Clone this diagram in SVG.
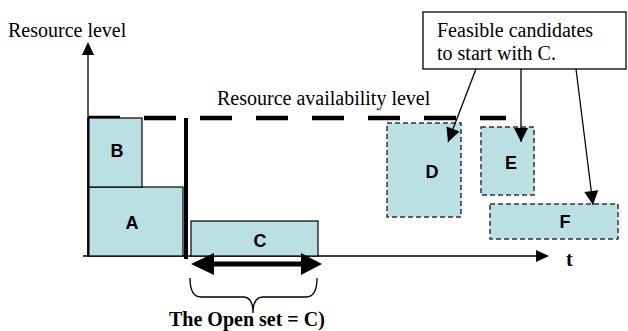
<svg xmlns="http://www.w3.org/2000/svg" width="628" height="331" viewBox="0 0 628 331">
  <defs>
    <style>
      text.serif { font-family: 'Liberation Serif', 'Times New Roman', Times, serif; font-size: 20px; fill: #000; }
      text.bold { font-weight: bold; }
      text.lbl { font-family: 'Liberation Sans', Arial, sans-serif; font-size: 18px; font-weight: bold; fill: #000; text-anchor: middle; }
      .task { fill: #BAE0E3; stroke: #000; stroke-width: 1.2; }
      .cand { fill: #BAE0E3; stroke: #333; stroke-width: 1.5; stroke-dasharray: 5 3; }
      .thin { stroke: #000; stroke-width: 1.3; fill: none; }
    </style>
    <marker id="ah" viewBox="0 0 12 14" refX="14" refY="7" markerWidth="14" markerHeight="14" markerUnits="userSpaceOnUse" orient="auto">
      <path d="M0,0 L14,7 L0,14 Z" fill="#000"/>
    </marker>
  </defs>

  <rect width="628" height="331" fill="#fff"/>

  <!-- axes -->
  <g id="axes">
    <line x1="88" y1="256" x2="88" y2="54" class="thin"/>
    <path d="M82,55 L88,42 L94,55 Z" fill="#000"/>
    <line x1="83" y1="256" x2="537" y2="256" class="thin"/>
    <path d="M536,250 L549,256 L536,262 Z" fill="#000"/>
    <text x="8" y="37" class="serif" font-family="Liberation Serif, serif">Resource level</text>
    <text x="566" y="266" class="serif bold" font-family="Liberation Serif, serif">t</text>
  </g>

  <!-- resource availability level -->
  <g id="availability">
    <line x1="88" y1="118" x2="506" y2="118" stroke="#000" stroke-width="4.5" stroke-dasharray="32 24"/>
    <text x="217" y="105" class="serif" font-family="Liberation Serif, serif">Resource availability level</text>
  </g>

  <!-- scheduled tasks -->
  <g id="task-A">
    <rect x="88" y="187" width="95" height="69" class="task"/>
    <text x="132" y="229" class="lbl">A</text>
  </g>
  <g id="task-B">
    <rect x="88" y="118" width="54" height="69" class="task"/>
    <text x="117" y="157" class="lbl">B</text>
  </g>
  <line x1="88.5" y1="118" x2="88.5" y2="256" stroke="#000" stroke-width="2"/>

  <!-- current time marker -->
  <g id="time-marker">
    <line x1="186" y1="118" x2="186" y2="259" stroke="#000" stroke-width="4"/>
  </g>

  <g id="task-C">
    <rect x="191" y="221" width="127" height="35" class="task"/>
    <text x="260" y="247" class="lbl">C</text>
  </g>

  <!-- candidate tasks -->
  <g id="task-D">
    <rect x="387" y="123" width="74" height="94" class="cand"/>
    <text x="432" y="178" class="lbl">D</text>
  </g>
  <g id="task-E">
    <rect x="481" y="127" width="53" height="68" class="cand"/>
    <text x="511" y="169" class="lbl">E</text>
  </g>
  <g id="task-F">
    <rect x="490" y="204" width="128" height="35" class="cand"/>
    <text x="565" y="228" class="lbl">F</text>
  </g>

  <!-- open set span -->
  <g id="open-set">
    <line x1="210" y1="264" x2="304" y2="264" stroke="#000" stroke-width="5"/>
    <path d="M191,264 L214,253 L214,275 Z" fill="#000"/>
    <path d="M322,264 L301,253 L301,275 Z" fill="#000"/>
    <path d="M190,278 Q190,297 201,297 L243,297 Q253,297 253,313 Q253,297 263,297 L306,297 Q317,297 317,278" class="thin"/>
    <text x="169" y="326" class="serif bold" font-family="Liberation Serif, serif">The Open set = C)</text>
  </g>

  <!-- callout -->
  <g id="callout">
    <rect x="423" y="12" width="203" height="57" fill="#fff" stroke="#000" stroke-width="1.3"/>
    <text x="437" y="37" class="serif" font-family="Liberation Serif, serif">Feasible candidates</text>
    <text x="437" y="60" class="serif" font-family="Liberation Serif, serif">to start with C.</text>
  </g>

  <!-- connectors -->
  <g id="connectors">
    <line x1="476" y1="69" x2="448" y2="142" class="thin" marker-end="url(#ah)"/>
    <line x1="521" y1="69" x2="521" y2="142" class="thin" marker-end="url(#ah)"/>
    <line x1="576" y1="69" x2="593" y2="205" class="thin" marker-end="url(#ah)"/>
  </g>
</svg>
